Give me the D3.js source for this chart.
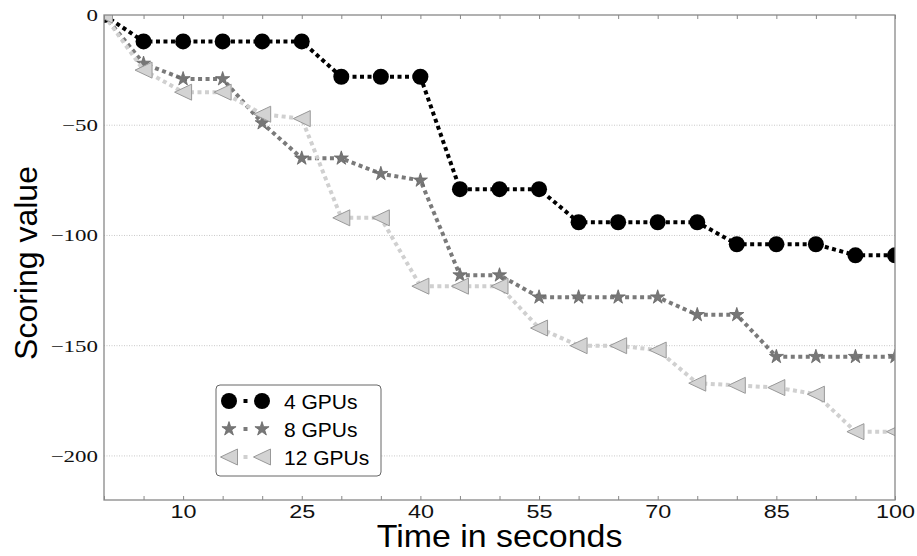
<!DOCTYPE html>
<html>
<head>
<meta charset="utf-8">
<script src="https://cdn.jsdelivr.net/npm/d3@7"></script>
<style>
    body { margin: 0; background: #fff; }
    svg { display: block; }
</style>
</head>
<body>
<svg id="chart" width="917" height="556"></svg>
<script>
// time axis (seconds) and the three runs
const seconds = [0, 5, 10, 15, 20, 25, 30, 35, 40, 45, 50, 55, 60, 65, 70, 75, 80, 85, 90, 95, 100];
const gpus4 = [0, -12, -12, -12, -12, -12, -28, -28, -28, -79, -79, -79, -94, -94, -94, -94, -104, -104, -104, -109, -109];
const gpus8 = [0, -22, -29, -29, -49, -65, -65, -72, -75, -118, -118, -128, -128, -128, -128, -136, -136, -155, -155, -155, -155];
const gpus12 = [0, -25, -35, -35, -45, -47, -92, -92, -123, -123, -123, -142, -150, -150, -152, -167, -168, -169, -172, -189, -189];

const seriesNames = ["4 GPUs", "8 GPUs", "12 GPUs"];
const xTickLabels = [10, 25, 40, 55, 70, 85, 100];
const yTicks = [0, -50, -100, -150, -200];

const styles = {
    "4 GPUs": {line: "#000", marker: "circle", fill: "#000", stroke: "#000"},
    "8 GPUs": {line: "#7a7a7a", marker: "star", fill: "#777", stroke: "#666"},
    "12 GPUs": {line: "#d0d0d0", marker: "triangle", fill: "#d3d3d3", stroke: "#999"}
};

const svg = d3.select("#chart"),
    margin = {top: 15, right: 22, bottom: 56, left: 104},
    width = +svg.attr("width"),
    height = +svg.attr("height");

const x = d3.scaleLinear()
    .domain([0, 100])
    .range([margin.left, width - margin.right]);

const y = d3.scaleLinear()
    .domain([-220, 0])
    .range([height - margin.bottom, margin.top]);

const series = [gpus4, gpus8, gpus12].map((vals, i) => ({
    id: seriesNames[i],
    values: seconds.map((s, j) => ({t: s, v: vals[j]}))
}));

svg.append("defs").append("clipPath").attr("id", "plot-clip")
    .append("rect")
    .attr("x", x(0)).attr("y", y(0))
    .attr("width", x(100) - x(0)).attr("height", y(-220) - y(0));

// grid
svg.append("g").selectAll("line")
    .data(yTicks.filter(d => d !== 0))
    .enter().append("line")
    .attr("x1", x(0)).attr("x2", x(100))
    .attr("y1", d => y(d)).attr("y2", d => y(d))
    .attr("stroke", "#bbb")
    .attr("stroke-width", 0.8)
    .attr("stroke-dasharray", "1,1.5");

function drawMarker(g, type, cx, cy, st) {
    if (type === "circle") {
        g.append("circle").attr("cx", cx).attr("cy", cy).attr("r", 8)
            .attr("fill", st.fill);
    } else if (type === "star") {
        g.append("path")
            .attr("d", d3.symbol(d3.symbolStar, 62)())
            .attr("transform", "translate(" + cx + "," + cy + ")")
            .attr("fill", st.fill).attr("stroke", st.stroke).attr("stroke-width", 0.8);
    } else {
        g.append("path")
            .attr("d", "M-8.5,0L8.5,-8L8.5,8Z")
            .attr("transform", "translate(" + cx + "," + cy + ")")
            .attr("fill", st.fill).attr("stroke", st.stroke).attr("stroke-width", 1);
    }
}

const line = d3.line()
    .x(d => x(d.t))
    .y(d => y(d.v));

const plot = svg.append("g").attr("clip-path", "url(#plot-clip)");

series.forEach(s => {
    const st = styles[s.id];
    const g = plot.append("g");
    g.append("path")
        .attr("d", line(s.values))
        .attr("fill", "none")
        .attr("stroke", st.line)
        .attr("stroke-width", 4)
        .attr("stroke-dasharray", "4,3.5");
    s.values.forEach(d => drawMarker(g, st.marker, x(d.t), y(d.v), st));
});

// frame
svg.append("rect")
    .attr("x", x(0)).attr("y", y(0))
    .attr("width", x(100) - x(0)).attr("height", y(-220) - y(0))
    .attr("fill", "none")
    .attr("stroke", "#888")
    .attr("stroke-width", 1.3);

// x axis
const xAxis = svg.append("g")
    .attr("transform", "translate(0," + y(-220) + ")")
    .call(d3.axisBottom(x).tickValues(seconds).tickSizeInner(-4).tickSizeOuter(0)
        .tickFormat(d => xTickLabels.includes(d) ? d : ""));
xAxis.select(".domain").remove();
xAxis.selectAll(".tick line").attr("stroke", "#888");
xAxis.selectAll(".tick text").filter(d => !xTickLabels.includes(d)).remove();
xAxis.selectAll(".tick text")
    .attr("y", 0).attr("dy", null)
    .attr("transform", "translate(0,18) scale(1.3,1)")
    .attr("font-family", "Liberation Sans, Arial, sans-serif")
    .attr("font-size", 18)
    .attr("fill", "#111");

const xTop = svg.append("g")
    .attr("transform", "translate(0," + y(0) + ")")
    .call(d3.axisTop(x).tickValues(seconds).tickSizeInner(-4).tickSizeOuter(0).tickFormat(""));
xTop.select(".domain").remove();
xTop.selectAll(".tick text").remove();
xTop.selectAll(".tick line").attr("stroke", "#888");

// y axis
const yAxis = svg.append("g")
    .attr("transform", "translate(" + x(0) + ",0)")
    .call(d3.axisLeft(y).tickValues(yTicks).tickSize(0));
yAxis.select(".domain").remove();
yAxis.selectAll(".tick text")
    .attr("x", 0)
    .attr("dy", "0.32em")
    .attr("transform", "translate(-6,0) scale(1.35,1)")
    .attr("font-family", "Liberation Serif, Times New Roman, serif")
    .attr("font-size", 17)
    .attr("fill", "#111");

// axis titles
svg.append("text")
    .attr("transform", "translate(" + (x(0) + x(100)) / 2 + ",547) scale(1.06,1)")
    .attr("text-anchor", "middle")
    .attr("font-family", "Liberation Sans, Arial, sans-serif")
    .attr("font-size", 32)
    .attr("fill", "#000")
    .text("Time in seconds");

svg.append("text")
    .attr("transform", "translate(37," + 263 + ") rotate(-90)")
    .attr("text-anchor", "middle")
    .attr("font-family", "Liberation Sans, Arial, sans-serif")
    .attr("font-size", 32)
    .attr("fill", "#000")
    .text("Scoring value");

// legend
const legend = svg.append("g").attr("transform", "translate(216,385)");
legend.append("rect")
    .attr("width", 165).attr("height", 91)
    .attr("rx", 4)
    .attr("fill", "#fff")
    .attr("stroke", "#666")
    .attr("stroke-width", 1);

seriesNames.forEach((name, i) => {
    const st = styles[name];
    const row = legend.append("g").attr("transform", "translate(0," + (16 + i * 28) + ")");
    row.append("line")
        .attr("x1", 13).attr("x2", 46)
        .attr("stroke", st.line)
        .attr("stroke-width", 4)
        .attr("stroke-dasharray", "0,14.5,4,20");
    drawMarker(row, st.marker, 13, 0, st);
    drawMarker(row, st.marker, 46, 0, st);
    row.append("text")
        .attr("x", 68).attr("y", 7.5)
        .attr("font-family", "Liberation Sans, Arial, sans-serif")
        .attr("font-size", 21)
        .attr("fill", "#000")
        .text(name);
});
</script>
</body>
</html>
